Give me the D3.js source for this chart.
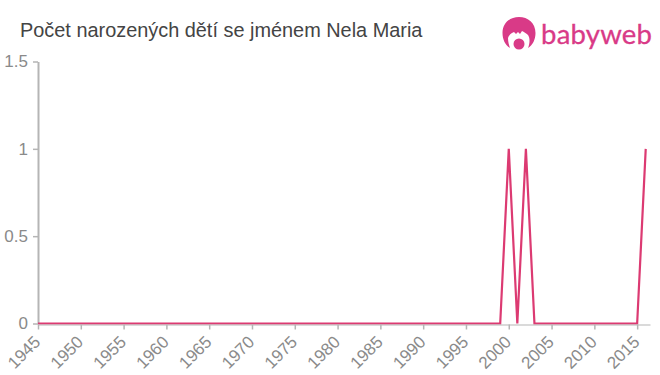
<!DOCTYPE html>
<html><head><meta charset="utf-8">
<script src="https://cdn.jsdelivr.net/npm/d3@7"></script>
<style>html,body{margin:0;padding:0;background:#fff}svg{display:block}</style>
</head><body><svg id="c" width="660" height="375"></svg>
<script>
const titleText = "Počet narozených dětí se jménem Nela Maria";
const brandText = "babyweb";
const years = d3.range(1945, 2017);
const values = [
 0,0,0,0,0, 0,0,0,0,0, 0,0,0,0,0, 0,0,0,0,0, 0,0,0,0,0,
 0,0,0,0,0, 0,0,0,0,0, 0,0,0,0,0, 0,0,0,0,0, 0,0,0,0,0,
 0,0,0,0,0, 1,0,1,0,0, 0,0,0,0,0, 0,0,0,0,0, 0,1];
const xTicks = d3.range(1945, 2016, 5);
const yTicks = [0, 0.5, 1, 1.5];
const svg = d3.select("#c");
const x = d3.scaleLinear().domain([1945, 2016.5]).range([38, 650]);
const y = d3.scaleLinear().domain([0, 1.5]).range([323.5, 61.5]);
const font = "Liberation Sans, Arial, sans-serif";

svg.append("text").attr("x",20).attr("y",37).attr("font-family",font).attr("font-size",19.9).attr("fill","#444").text(titleText);

const ay = svg.append("g").attr("transform","translate(38,0)")
  .call(d3.axisLeft(y).tickValues(yTicks).tickFormat(d3.format("")).tickSize(5).tickSizeOuter(0));
ay.select(".domain").attr("stroke","#b5b5b5").attr("stroke-width",2);
ay.selectAll(".tick line").attr("stroke","#b5b5b5").attr("stroke-width",1.5);
ay.selectAll(".tick text").attr("font-family",font).attr("font-size",17).attr("fill","#8a8a8a").attr("x",-10);

svg.append("path").datum(values)
  .attr("fill","none").attr("stroke","#dc3a72").attr("stroke-width",2.2).attr("stroke-linejoin","miter")
  .attr("d", d3.line().x((d,i)=>x(years[i])).y(d=>y(d)));

const ax = svg.append("g").attr("transform","translate(0,324.5)")
  .call(d3.axisBottom(x).tickValues(xTicks).tickFormat(d3.format("d")).tickSize(5).tickSizeOuter(0));
ax.select(".domain").attr("stroke","#b5b5b5").attr("stroke-width",1);
ax.selectAll(".tick line").attr("stroke","#b5b5b5").attr("stroke-width",1.5);
ax.selectAll(".tick text").attr("font-family",font).attr("font-size",17).attr("fill","#8a8a8a")
  .attr("text-anchor","end").attr("dx",0).attr("dy",0).attr("y",0)
  .attr("transform","translate(3,18.5) rotate(-45)");

// logo
const logo = svg.append("g").attr("transform","translate(519,33)");
logo.append("path").attr("fill","#d93a87")
  .attr("d","M-9,15 C-14,12 -16.5,6 -16.5,0 C-16.5,-10 -9,-16 0,-16 C9,-16 16.5,-10 16.5,0 C16.5,6 14,12 9,15 C11,10 11,5 9,2 C7,0 5,-1 3,-2 L1,1 L-1,-1 L-3,1 L-5,-1 C-8,0 -10,2 -11,5 C-11,9 -10,12 -9,15 Z");
logo.append("circle").attr("cx",0).attr("cy",11).attr("r",5.5).attr("fill","#d93a87");
svg.append("text").attr("x",541).attr("y",43.5).attr("font-family","Lato, Inter, sans-serif").attr("font-size",27.5).attr("stroke","#d93a87").attr("stroke-width",0.3).attr("fill","#d93a87").attr("textLength",111).text(brandText);
</script></body></html>
